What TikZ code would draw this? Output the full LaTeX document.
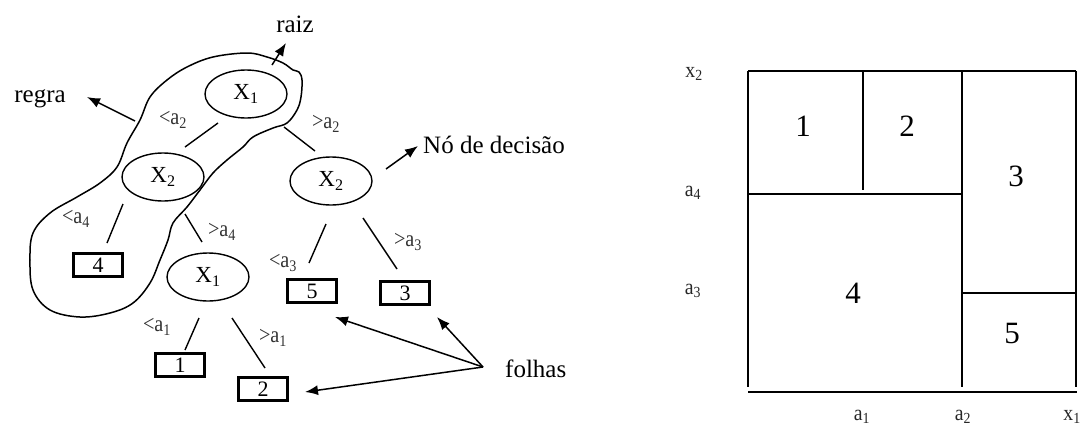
\documentclass[tikz,border=0pt]{standalone}
\usepackage{fontspec}
\setmainfont{Liberation Serif}
\usetikzlibrary{shapes.geometric,arrows.meta,calc}
\begin{document}
\begin{tikzpicture}[x=1pt,y=-1pt,
  big/.style={font=\fontsize{25}{30}\selectfont, inner sep=0pt},
  lab/.style={font=\fontsize{23}{26}\selectfont, inner sep=0pt, text=black!80, xscale=0.88},
  axl/.style={font=\fontsize{22}{26}\selectfont, inner sep=0pt, text=black!85, xscale=0.9},
  reg/.style={font=\fontsize{31}{36}\selectfont, inner sep=0pt},
  test/.style={draw, ellipse, line width=1.4pt, minimum width=82pt, minimum height=48pt, inner sep=0pt, font=\fontsize{23}{26}\selectfont},
  leaf/.style={draw, line width=2.6pt, minimum width=49pt, minimum height=23pt, inner sep=0pt, font=\fontsize{22}{24}\selectfont},
  edge/.style={line width=1.4pt},
  pointer/.style={line width=1.5pt, -{Latex[length=13pt,width=10pt]}},
  part/.style={line width=2pt}]
\useasboundingbox (0,0) rectangle (1081,426);

% tree nodes
\node[test] (root) at (246,94) {X\textsubscript{1}};
\node[test] (x2l) at (163,177) {X\textsubscript{2}};
\node[test] (x2r) at (331,181) {X\textsubscript{2}};
\node[test] (x1b) at (208,277) {X\textsubscript{1}};
\node[leaf] (b4) at (98,265) {4};
\node[leaf] (b5) at (312,291) {5};
\node[leaf] (b3) at (405,293) {3};
\node[leaf] (b1) at (180,365) {1};
\node[leaf] (b2) at (263,389) {2};

% edges
\draw[edge] ($(root)+(-28,29)$) -- ($(x2l)+(22,-30)$);
\draw[edge] ($(root)+(38,33)$) -- ($(x2r)+(-16,-30)$);
\draw[edge] ($(x2l)+(-40,27)$) -- ($(b4)+(9,-22)$);
\draw[edge] ($(x2l)+(22,37)$) -- ($(x1b)+(-6,-35)$);
\draw[edge] ($(x2r)+(-5,43)$) -- ($(b5)+(-3,-28)$);
\draw[edge] ($(x2r)+(32,37)$) -- ($(b3)+(-8,-24)$);
\draw[edge] ($(x1b)+(-9,41)$) -- ($(b1)+(5,-15)$);
\draw[edge] ($(x1b)+(24,41)$) -- ($(b2)+(2,-21)$);

% edge labels
\node[lab] (l1) at (173,120) {<a\textsubscript{2}};
\node[lab] (l2) at (326,124) {>a\textsubscript{2}};
\node[lab] (l3) at (76,219) {<a\textsubscript{4}};
\node[lab] (l4) at (222,232) {>a\textsubscript{4}};
\node[lab] (l5) at (283,263) {<a\textsubscript{3}};
\node[lab] (l6) at (408,242) {>a\textsubscript{3}};
\node[lab] (l7) at (157,327) {<a\textsubscript{1}};
\node[lab] (l8) at (273,338) {>a\textsubscript{1}};

% rule region
\draw[line width=1.5pt] plot[smooth cycle, tension=0.6] coordinates {
 (247,53) (267,57) (283,63) (293,70) (299,72) (302,80) (301,97) (297,110)
 (287,123) (273,128) (253,137) (243,147) (227,160) (213,173) (200,190)
 (187,207) (173,223) (168,240) (160,260) (150,283) (133,303) (110,313)
 (80,317) (50,310) (33,290) (30,260) (33,233) (50,213) (77,197) (100,183)
 (117,167) (127,143) (140,120) (150,97) (167,80) (187,67) (213,57)};

% callouts
\node[big] (raiz) at (295,24) {raiz};
\node[big] (regra) at (40,99) {regra};
\node[big, anchor=west] (no) at (423,145) {Nó de decisão};
\node[big, anchor=west] (folhas) at (505,369) {folhas};
\coordinate (rz) at (272,65);
\coordinate (rg) at (135,121);
\coordinate (nd) at (386,169);
\coordinate (fo) at (483,367);
\draw[pointer] (rz) -- ($(raiz)+(-9,19)$);
\draw[pointer] (rg) -- ($(regra)+(47,-2)$);
\draw[pointer] (nd) -- ($(no.west)+(-5,1)$);
\draw[pointer] (fo) -- ($(b5)+(23,26)$);
\draw[pointer] (fo) -- ($(b3)+(32,24)$);
\draw[pointer] (fo) -- ($(b2)+(42,3)$);

% partition diagram
\draw[part] (748,71) -- (1076,71);
\draw[part] (748,71) -- (748,387);
\draw[part] (1076,71) -- (1076,387);
\draw[part] (748,392) -- (1077,392);
\draw[part] (962,71) -- (962,387);
\draw[part] (863,71) -- (863,190);
\draw[part] (748,194) -- (962,194);
\draw[part] (962,293) -- (1076,293);

\node[reg] (r1) at (803,126) {1};
\node[reg] (r2) at (907,126) {2};
\node[reg] (r3) at (1016,176) {3};
\node[reg] (r4) at (853,293) {4};
\node[reg] (r5) at (1012,333) {5};

\node[axl] (ax2) at (694,74) {x\textsubscript{2}};
\node[axl] (aa4) at (693,193) {a\textsubscript{4}};
\node[axl] (aa3) at (693,291) {a\textsubscript{3}};
\node[axl] (aa1) at (862,417) {a\textsubscript{1}};
\node[axl] (aa2) at (963,417) {a\textsubscript{2}};
\node[axl] (ax1) at (1072,417) {x\textsubscript{1}};
\end{tikzpicture}
\end{document}
